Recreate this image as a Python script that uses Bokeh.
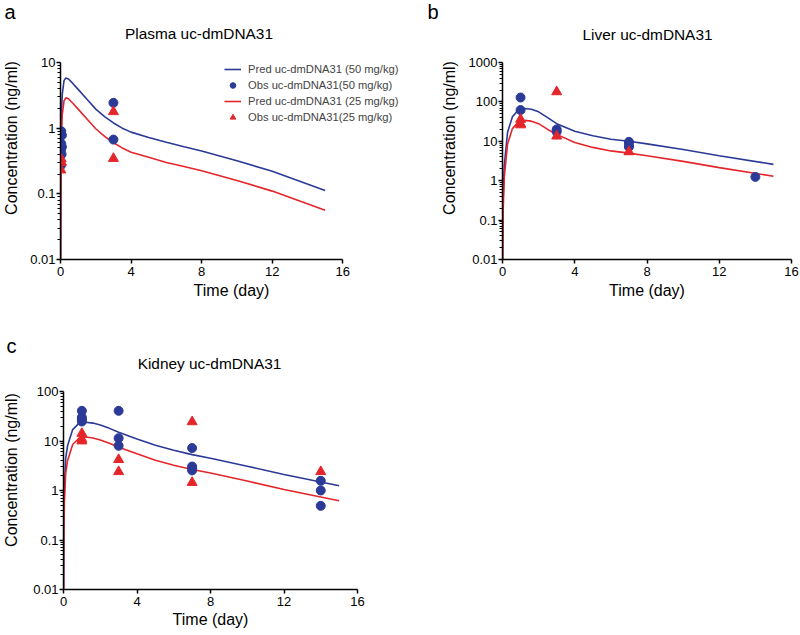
from bokeh.plotting import figure
from bokeh.models import (Range1d, FixedTicker, CustomJSTickFormatter, Label,
                          Legend, LegendItem)
from bokeh.layouts import column, row
from bokeh.embed import file_html
from bokeh.resources import INLINE

BLUE = "#2B3A96"
RED = "#E4262B"
FONT = "Liberation Sans"

# ---------------- data ----------------
x_ticks = [0, 4, 8, 12, 16]

# Panel a: Plasma
a_t = [0.002, 0.02, 0.05, 0.1, 0.2, 0.3, 0.45, 0.7, 1.0, 1.5, 2.0, 2.5, 3, 3.5, 4, 5, 6, 7, 8, 10, 12, 15]
a_pred50 = [0.005, 0.25, 1.5, 3.3, 5.3, 5.8, 5.6, 4.8, 3.9, 2.75, 1.95, 1.5, 1.2, 1.0, 0.87, 0.72, 0.61, 0.52, 0.45, 0.32, 0.22, 0.112]
a_pred25 = [0.0025, 0.12, 0.75, 1.6, 2.6, 2.9, 2.8, 2.4, 1.95, 1.38, 0.98, 0.75, 0.6, 0.5, 0.43, 0.36, 0.3, 0.26, 0.225, 0.16, 0.11, 0.056]
a_obs50_t = [0.04, 0.08, 0.04, 0.08, 0.02, 0.06, 0.02, 3, 3]
a_obs50 = [0.9, 0.78, 0.58, 0.52, 0.46, 0.4, 0.27, 2.43, 0.67]
a_obs25_t = [0.04, 0.06, 0.02, 3, 3]
a_obs25 = [0.34, 0.3, 0.23, 1.78, 0.345]

# Panel b: Liver
b_t = [0.002, 0.03, 0.1, 0.28, 0.55, 0.85, 1.2, 1.6, 2.0, 2.5, 3, 4, 5, 6, 7, 8, 10, 12, 15]
b_pred50 = [0.005, 0.3, 2.5, 17, 42, 60, 68, 65, 56, 40, 28, 18, 13.8, 11.3, 10, 8.6, 6.2, 4.3, 2.6]
b_pred25 = [0.0025, 0.15, 1.25, 8.5, 21, 30, 34, 32.5, 28, 20, 15, 9.3, 7.0, 5.7, 5.0, 4.3, 3.1, 2.15, 1.3]
b_obs50_t = [1, 1, 3, 3, 7, 7, 7, 14]
b_obs50 = [129, 62, 20, 17.5, 9.7, 8.3, 7.2, 1.25]
b_obs25_t = [1, 1, 1, 3, 3, 7]
b_obs25 = [36, 28, 26, 180, 13.5, 5.4]

# Panel c: Kidney
c_t = [0.002, 0.02, 0.05, 0.12, 0.22, 0.5, 0.85, 1.2, 1.6, 2, 2.5, 3, 4, 5, 6, 7, 8, 10, 12, 15]
c_pred50 = [0.005, 0.3, 1.2, 4.5, 8, 17, 23, 24, 23, 21, 18, 15, 11, 8.2, 6.5, 5.3, 4.5, 3.1, 2.1, 1.25]
c_pred25 = [0.0025, 0.15, 0.6, 2.25, 4, 8.5, 11.5, 12, 11.5, 10.5, 9, 7.5, 5.5, 4.1, 3.25, 2.65, 2.25, 1.55, 1.05, 0.62]
c_obs50_t = [1, 1, 1, 1, 3, 3, 3, 7, 7, 7, 7, 14, 14, 14]
c_obs50 = [40.7, 30, 27.6, 24.8, 40.7, 11.4, 8, 7.2, 3.05, 2.8, 2.55, 1.57, 1.0, 0.49]
c_obs25_t = [1, 1, 1, 3, 3, 7, 7, 14]
c_obs25 = [14.2, 10.9, 10, 4.2, 2.4, 24.4, 1.45, 2.4]

legend_labels = ["Pred uc-dmDNA31 (50 mg/kg)", "Obs uc-dmDNA31(50 mg/kg)",
                 "Pred uc-dmDNA31 (25 mg/kg)", "Obs uc-dmDNA31(25 mg/kg)"]


def make_panel(title, letter, t, p50, p25, t50, o50, t25, o25, ylo, yhi,
               fw, fh, data_w, data_h, left, right, top, bottom,
               ylab_sd, xlab_sd, letter_off, title_xy, legend_loc=None):
    # frame may extend beyond the data area (to the right and upwards);
    # the axes are bounded to the data area
    xmax = 16.0 * fw / data_w
    ndec = yhi - ylo
    ymax = 10.0 ** (yhi + (fh - data_h) * ndec / data_h)
    p = figure(frame_width=fw, frame_height=fh,
               min_border_left=left, min_border_right=right,
               min_border_top=top, min_border_bottom=bottom,
               x_range=Range1d(0, xmax), y_range=Range1d(10.0 ** ylo, ymax),
               y_axis_type="log", output_backend="svg", toolbar_location=None)
    p.outline_line_color = None
    p.xgrid.visible = False
    p.ygrid.visible = False
    p.background_fill_color = "white"
    p.border_fill_color = "white"

    major = [10.0 ** k for k in range(ylo, yhi + 1)]
    minor = [m * 10.0 ** k for k in range(ylo, yhi) for m in range(2, 10)]
    p.xaxis.ticker = FixedTicker(ticks=x_ticks, minor_ticks=[])
    p.yaxis.ticker = FixedTicker(ticks=major, minor_ticks=minor)
    p.xaxis.bounds = (0, 16)
    p.yaxis.bounds = (10.0 ** ylo, 10.0 ** yhi)
    p.yaxis.formatter = CustomJSTickFormatter(
        code="return String(parseFloat(tick.toPrecision(3)));")
    p.xaxis.axis_label = "Time (day)"
    p.yaxis.axis_label = "Concentration (ng/ml)"
    for ax in (p.xaxis[0], p.yaxis[0]):
        ax.axis_line_width = 1.5
        ax.axis_line_color = "black"
        ax.major_tick_line_width = 1.5
        ax.major_tick_line_color = "black"
        ax.major_tick_in = 0
        ax.major_tick_out = 4
        ax.minor_tick_in = 0
        ax.minor_tick_out = 3
        ax.minor_tick_line_width = 1
        ax.minor_tick_line_color = "black"
        ax.major_label_text_font = FONT
        ax.major_label_text_font_size = "13px"
        ax.major_label_text_color = "black"
        ax.axis_label_text_font = FONT
        ax.axis_label_text_font_size = "16px"
        ax.axis_label_text_font_style = "normal"
        ax.axis_label_text_color = "black"
    p.yaxis.major_label_standoff = 1
    p.xaxis.major_label_standoff = 3
    p.yaxis.axis_label_standoff = ylab_sd
    p.xaxis.axis_label_standoff = xlab_sd

    l50 = p.line(t, p50, line_color=BLUE, line_width=1.6)
    l25 = p.line(t, p25, line_color=RED, line_width=1.6)
    s50 = p.scatter(t50, o50, marker="circle", size=9, fill_color=BLUE,
                    line_color=BLUE)
    s25 = p.scatter(t25, o25, marker="triangle", size=10, fill_color=RED,
                    line_color=RED)

    # panel letter as the plot's title (side panel, not clipped)
    p.title.text = letter
    p.title.align = "left"
    p.title.offset = letter_off
    p.title.vertical_align = "bottom"
    p.title.standoff = -12
    p.title.text_font = FONT
    p.title.text_font_size = "20px"
    p.title.text_font_style = "normal"
    p.title.text_color = "black"

    # panel heading inside the (extended) frame
    p.add_layout(Label(x=title_xy[0], y=title_xy[1], x_units="screen",
                       y_units="screen", text=title, text_font=FONT,
                       text_font_size="15.4px", text_align="center",
                       text_baseline="middle", text_color="black"))

    if legend_loc is not None:
        items = [LegendItem(label=legend_labels[0], renderers=[l50]),
                 LegendItem(label=legend_labels[1], renderers=[s50]),
                 LegendItem(label=legend_labels[2], renderers=[l25]),
                 LegendItem(label=legend_labels[3], renderers=[s25])]
        lg = Legend(items=items, location=legend_loc, padding=0, margin=0,
                    spacing=2, glyph_width=17, glyph_height=14,
                    label_height=14, label_standoff=7,
                    label_text_font=FONT, label_text_font_size="11.2px",
                    border_line_color=None, background_fill_alpha=0)
        p.add_layout(lg)
    return p


pa = make_panel("Plasma uc-dmDNA31", "a", a_t, a_pred50, a_pred25,
                a_obs50_t, a_obs50, a_obs25_t, a_obs25, -2, 1,
                fw=342, fh=243, data_w=282.3, data_h=197,
                left=58, right=0, top=16, bottom=50,
                ylab_sd=7, xlab_sd=3, letter_off=-56, title_xy=(138.5, 226),
                legend_loc=(164, 135))
pb = make_panel("Liver uc-dmDNA31", "b", b_t, b_pred50, b_pred25,
                b_obs50_t, b_obs50, b_obs25_t, b_obs25, -2, 3,
                fw=289, fh=243, data_w=289, data_h=197,
                left=100, right=10, top=16, bottom=50,
                ylab_sd=8, xlab_sd=3, letter_off=-75, title_xy=(145, 225))
pc = make_panel("Kidney uc-dmDNA31", "c", c_t, c_pred50, c_pred25,
                c_obs50_t, c_obs50, c_obs25_t, c_obs25, -2, 2,
                fw=294, fh=239, data_w=294, data_h=198,
                left=59, right=47, top=41, bottom=45,
                ylab_sd=10, xlab_sd=2, letter_off=-57, title_xy=(146, 226))

layout = column(row(pa, pb), pc)
open("out.html", "w").write(file_html(layout, INLINE))
